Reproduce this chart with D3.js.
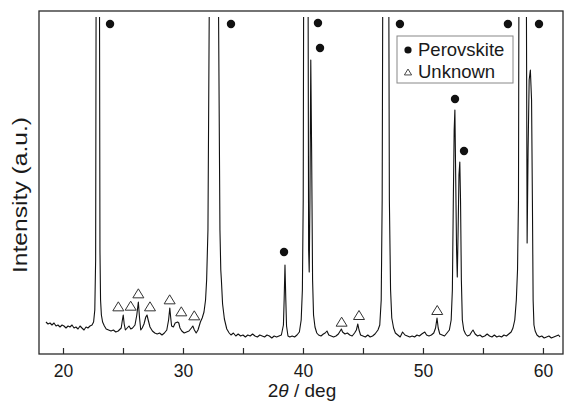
<!DOCTYPE html>
<html>
<head>
<meta charset="utf-8">
<script src="https://cdn.jsdelivr.net/npm/d3@7/dist/d3.min.js"></script>
<style>
  body { margin: 0; background: #fff; }
  text { font-family: "Liberation Sans", Arial, Helvetica, sans-serif; fill: #1a1a1a; }
</style>
</head>
<body>
<svg id="chart" width="564" height="401"></svg>
<script>
// XRD pattern (2theta in deg, intensity in a.u.)
const twoTheta = [
  18.58, 18.75, 18.92, 19.08, 19.25, 19.42, 19.58, 19.75, 19.92, 20.08,
  20.25, 20.42, 20.58, 20.75, 20.92, 21.08, 21.25, 21.42, 21.58, 21.75,
  21.92, 22.08, 22.25, 22.42, 22.55, 22.65, 22.72, 22.78, 22.9, 23.02,
  23.08, 23.13, 23.2, 23.3, 23.45, 23.6, 23.8, 24.0, 24.2, 24.4,
  24.6, 24.85, 24.95, 25.02, 25.1, 25.2, 25.35, 25.5, 25.65, 25.8,
  26.0, 26.15, 26.28, 26.38, 26.48, 26.6, 26.75, 26.9, 27.0, 27.1,
  27.25, 27.45, 27.65, 27.85, 28.05, 28.25, 28.45, 28.65, 28.8, 28.9,
  28.98, 29.05, 29.2, 29.35, 29.55, 29.65, 29.75, 29.9, 30.1, 30.3,
  30.5, 30.7, 30.82, 30.95, 31.1, 31.25, 31.45, 31.6, 31.75, 31.88,
  31.97, 32.08, 32.2, 32.3, 32.58, 32.85, 32.95, 33.08, 33.15, 33.2,
  33.3, 33.45, 33.65, 33.85, 34.0, 34.2, 34.4, 34.6, 34.8, 35.0,
  35.2, 35.4, 35.6, 35.8, 36.0, 36.2, 36.4, 36.6, 36.8, 37.0,
  37.2, 37.4, 37.6, 37.8, 38.0, 38.2, 38.37, 38.43, 38.5, 38.57,
  38.63, 38.75, 38.9, 39.1, 39.3, 39.5, 39.7, 39.85, 39.95, 40.02,
  40.08, 40.25, 40.42, 40.47, 40.52, 40.58, 40.65, 40.72, 40.8, 40.88,
  41.0, 41.15, 41.3, 41.5, 41.7, 41.85, 42.0, 42.15, 42.35, 42.55,
  42.75, 42.95, 43.1, 43.2, 43.3, 43.5, 43.7, 43.9, 44.1, 44.3,
  44.45, 44.57, 44.67, 44.8, 45.0, 45.2, 45.4, 45.6, 45.8, 46.0,
  46.25, 46.4, 46.52, 46.6, 46.68, 46.92, 47.12, 47.2, 47.3, 47.4,
  47.55, 47.7, 47.9, 48.1, 48.3, 48.5, 48.7, 48.9, 49.1, 49.3,
  49.5, 49.7, 49.9, 50.15, 50.3, 50.5, 50.7, 50.9, 51.05, 51.17,
  51.27, 51.4, 51.6, 51.8, 52.0, 52.2, 52.35, 52.45, 52.53, 52.6,
  52.66, 52.72, 52.8, 52.86, 52.93, 53.0, 53.07, 53.13, 53.2, 53.28,
  53.4, 53.55, 53.7, 53.9, 54.05, 54.17, 54.35, 54.55, 54.75, 54.95,
  55.15, 55.35, 55.55, 55.75, 55.95, 56.15, 56.35, 56.55, 56.75, 56.95,
  57.15, 57.35, 57.5, 57.65, 57.78, 57.88, 57.96, 58.02, 58.35, 58.6,
  58.68, 58.76, 58.85, 58.95, 59.05, 59.12, 59.18, 59.25, 59.35, 59.5,
  59.7, 59.9, 60.1, 60.3, 60.5, 60.7, 60.9, 61.1, 61.3, 61.42
];
const intensity = [
  96, 90, 93, 87, 93, 84, 87, 81, 87, 84,
  78, 84, 81, 87, 78, 81, 75, 84, 78, 72,
  81, 78, 84, 87, 96, 132, 282, 1500, 4000, 1500,
  312, 162, 117, 96, 84, 75, 72, 69, 72, 66,
  69, 78, 102, 117, 90, 72, 78, 84, 75, 78,
  87, 117, 156, 108, 72, 78, 90, 111, 117, 102,
  81, 69, 63, 60, 63, 57, 63, 72, 102, 138,
  108, 84, 81, 93, 96, 93, 78, 69, 63, 66,
  69, 78, 84, 72, 63, 72, 96, 108, 126, 162,
  222, 372, 1100, 2000, 4000, 2000, 1100, 372, 252, 222,
  150, 105, 75, 63, 57, 63, 54, 60, 54, 57,
  51, 57, 54, 60, 54, 51, 57, 54, 51, 57,
  54, 48, 54, 51, 54, 57, 87, 162, 267, 162,
  84, 54, 51, 54, 51, 57, 66, 102, 192, 462,
  1500, 4000, 1200, 312, 246, 462, 882, 612, 222, 117,
  81, 63, 57, 54, 60, 63, 69, 57, 54, 51,
  54, 60, 69, 75, 66, 60, 63, 57, 54, 63,
  72, 90, 72, 57, 54, 51, 57, 51, 54, 60,
  72, 87, 162, 462, 1500, 4000, 1500, 462, 192, 108,
  78, 63, 57, 51, 66, 57, 54, 51, 54, 51,
  57, 54, 60, 66, 57, 54, 57, 63, 78, 108,
  78, 60, 57, 54, 63, 72, 102, 192, 462, 672,
  732, 552, 312, 231, 372, 537, 576, 462, 222, 102,
  72, 60, 54, 57, 66, 72, 60, 54, 57, 51,
  54, 60, 54, 51, 57, 51, 54, 51, 57, 54,
  60, 66, 78, 102, 162, 252, 462, 1500, 4000, 1300,
  333, 612, 822, 852, 762, 462, 162, 87, 69, 57,
  51, 54, 48, 51, 54, 48, 51, 54, 57, 51
];

// marker positions [2theta, intensity]
const perovskiteMarks = [
  [23.92, 990], [34.0, 990], [41.25, 993], [41.42, 918], [48.08, 990],
  [57.08, 990], [59.67, 990], [38.42, 306], [52.67, 765], [53.42, 609]
];
const unknownMarks = [
  [24.61, 143], [25.64, 145], [26.28, 182], [27.25, 143], [28.89, 164],
  [29.86, 128], [30.94, 116], [43.22, 97], [44.67, 117], [51.19, 132]
];

const xTicks = [20, 25, 30, 35, 40, 45, 50, 55, 60];
const xLabelled = [20, 30, 40, 50, 60];
const legendLabels = ["Perovskite", "Unknown"];
const clipLevel = 1011;

const svg = d3.select("#chart");
const plotL = 39, plotR = 563, plotT = 11, plotB = 354;

const x = d3.scaleLinear().domain([18, 61.67]).range([plotL, plotR]);
const y = d3.scaleLinear().domain([0, 1029]).range([plotB, plotT]);

svg.append("defs").append("clipPath").attr("id", "plotclip")
  .append("rect")
  .attr("x", plotL).attr("y", y(clipLevel))
  .attr("width", plotR - plotL).attr("height", plotB - y(clipLevel));

const pattern = twoTheta.map((t, i) => [t, intensity[i]]);

svg.append("path")
  .datum(pattern)
  .attr("clip-path", "url(#plotclip)")
  .attr("fill", "none")
  .attr("stroke", "#111")
  .attr("stroke-width", 1.1)
  .attr("stroke-linejoin", "round")
  .attr("d", d3.line().x(d => x(d[0])).y(d => y(d[1])));

// frame
svg.append("rect")
  .attr("x", plotL).attr("y", plotT)
  .attr("width", plotR - plotL).attr("height", plotB - plotT)
  .attr("fill", "none").attr("stroke", "#2a2a2a").attr("stroke-width", 1.3);

const xAxis = svg.append("g")
  .attr("transform", `translate(0,${plotB})`)
  .call(d3.axisBottom(x)
    .tickValues(xTicks)
    .tickSize(-6)
    .tickPadding(11)
    .tickFormat(d => xLabelled.includes(d) ? d : ""));
xAxis.select(".domain").remove();
xAxis.selectAll(".tick line").attr("stroke", "#2a2a2a").attr("stroke-width", 1.2);
xAxis.selectAll(".tick text")
  .attr("font-size", 17.5)
  .attr("font-family", "Liberation Sans, Arial, sans-serif")
  .attr("fill", "#1a1a1a");

// markers
const tri = s => `M0,${-s * 0.82}L${s},${s * 0.82}L${-s},${s * 0.82}Z`;

svg.append("g").selectAll("circle")
  .data(perovskiteMarks)
  .join("circle")
  .attr("cx", d => x(d[0])).attr("cy", d => y(d[1]))
  .attr("r", 4.2).attr("fill", "#111");

svg.append("g").selectAll("path")
  .data(unknownMarks)
  .join("path")
  .attr("transform", d => `translate(${x(d[0])},${y(d[1])})`)
  .attr("d", tri(5.5))
  .attr("fill", "#fff").attr("stroke", "#333").attr("stroke-width", 1);

// legend
const lg = svg.append("g").attr("transform", "translate(397,36)");
lg.append("rect").attr("width", 116).attr("height", 47)
  .attr("fill", "#fff").attr("stroke", "#888").attr("stroke-width", 1);
lg.append("circle").attr("cx", 11).attr("cy", 14).attr("r", 3.6).attr("fill", "#111");
lg.append("path").attr("transform", "translate(11,36)").attr("d", tri(3.6))
  .attr("fill", "#fff").attr("stroke", "#333").attr("stroke-width", 0.9);
lg.selectAll("text.lab")
  .data(legendLabels)
  .join("text")
  .attr("class", "lab")
  .attr("x", 21).attr("y", (d, i) => 19.5 + i * 22)
  .attr("font-size", 18.5)
  .text(d => d);

// axis titles
svg.append("text")
  .attr("transform", "translate(27,195) rotate(-90)")
  .attr("text-anchor", "middle")
  .attr("font-size", 20)
  .attr("textLength", 156)
  .attr("lengthAdjust", "spacingAndGlyphs")
  .text("Intensity (a.u.)");

const xt = svg.append("text")
  .attr("x", 302).attr("y", 397)
  .attr("text-anchor", "middle")
  .attr("font-size", 19);
xt.append("tspan").text("2");
xt.append("tspan").attr("font-style", "italic").text("θ");
xt.append("tspan").text(" / deg");
</script>
</body>
</html>
